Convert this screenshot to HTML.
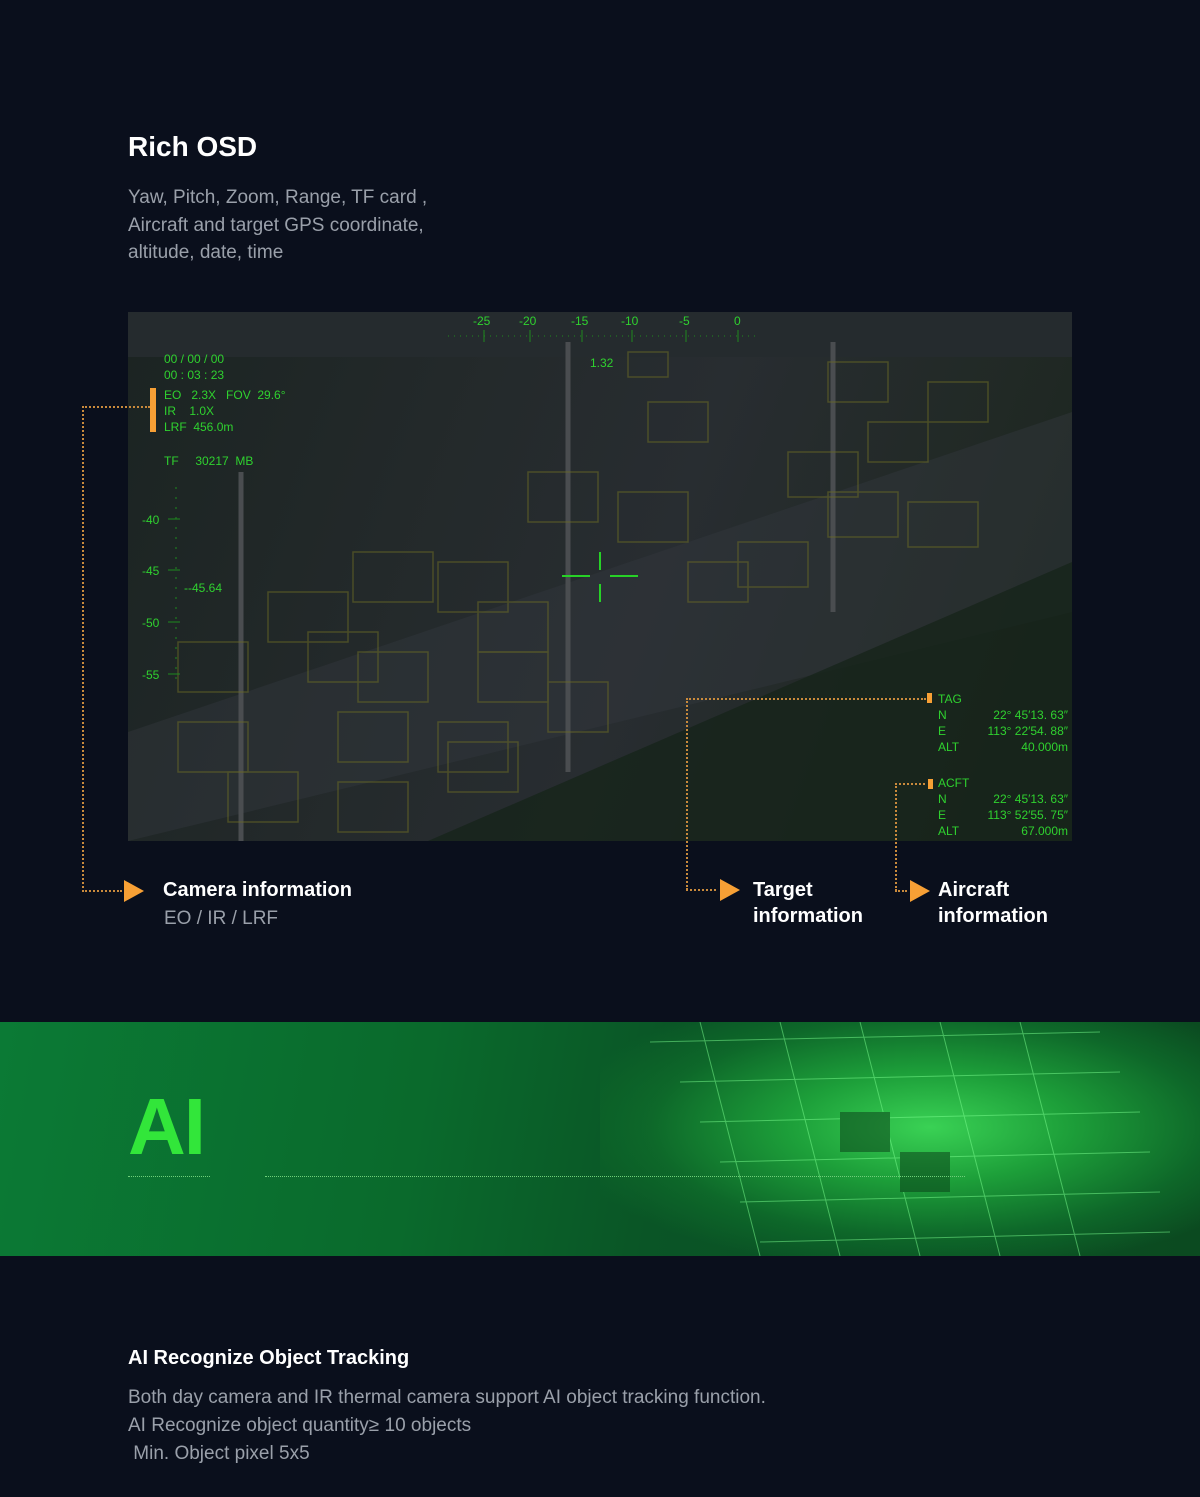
<!DOCTYPE html>
<html><head><meta charset="utf-8"><style>
*{margin:0;padding:0;box-sizing:border-box}
body{width:1200px;height:1497px;background:#0a0f1c;position:relative;overflow:hidden;font-family:"Liberation Sans",sans-serif;color:#fff}
.a{position:absolute}
.g{color:#2fd12f;font-size:12px;line-height:16px;position:absolute;font-family:"Liberation Sans",sans-serif}
.dot{position:absolute;border-color:#c98a3c;border-style:dotted;border-width:0}
.tri{position:absolute;width:0;height:0;border-top:11px solid transparent;border-bottom:11px solid transparent;border-left:20px solid #f7a035}
.h{font-weight:bold;font-size:20px;line-height:26px}
</style></head><body>
<div class="a h" style="left:128px;top:130px;font-size:28px;line-height:34px">Rich OSD</div>
<div class="a" style="left:128px;top:184px;font-size:19px;line-height:27.5px;color:#9aa0aa">Yaw, Pitch, Zoom, Range, TF card ,<br>Aircraft and target GPS coordinate,<br>altitude, date, time</div>

<div class="a" style="left:128px;top:312px;width:944px;height:529px;background:linear-gradient(110deg,#1b2422 0%,#23292a 30%,#282d31 55%,#212925 80%,#19251d 100%);overflow:hidden">
<svg width="944" height="529" style="position:absolute;left:0;top:0">
<polygon points="0,420 944,100 944,300 0,529" fill="#33383d" opacity=".45"/>
<polygon points="300,529 944,250 944,529" fill="#17241a" opacity=".8"/>
<rect x="0" y="0" width="944" height="45" fill="#252b2e"/>
<line x1="440" y1="30" x2="440" y2="460" stroke="#4a4d50" stroke-width="5"/>
<line x1="705" y1="30" x2="705" y2="300" stroke="#4a4d50" stroke-width="5"/>
<line x1="113" y1="160" x2="113" y2="529" stroke="#4a4d50" stroke-width="5"/>
<g fill="none" stroke="#6b6b25" stroke-width="1.5" opacity=".55">
<rect x="500" y="40" width="40" height="25"/><rect x="520" y="90" width="60" height="40"/><rect x="400" y="160" width="70" height="50"/><rect x="490" y="180" width="70" height="50"/><rect x="225" y="240" width="80" height="50"/><rect x="310" y="250" width="70" height="50"/><rect x="140" y="280" width="80" height="50"/><rect x="350" y="290" width="70" height="50"/><rect x="180" y="320" width="70" height="50"/><rect x="50" y="330" width="70" height="50"/><rect x="230" y="340" width="70" height="50"/><rect x="350" y="340" width="70" height="50"/><rect x="560" y="250" width="60" height="40"/><rect x="610" y="230" width="70" height="45"/><rect x="700" y="180" width="70" height="45"/><rect x="780" y="190" width="70" height="45"/><rect x="660" y="140" width="70" height="45"/><rect x="740" y="110" width="60" height="40"/><rect x="800" y="70" width="60" height="40"/><rect x="700" y="50" width="60" height="40"/><rect x="50" y="410" width="70" height="50"/><rect x="210" y="400" width="70" height="50"/><rect x="310" y="410" width="70" height="50"/><rect x="100" y="460" width="70" height="50"/><rect x="210" y="470" width="70" height="50"/><rect x="420" y="370" width="60" height="50"/><rect x="320" y="430" width="70" height="50"/></g>
<g stroke="#1e8a1e">
<line x1="320" y1="24" x2="632" y2="24" stroke-dasharray="1 5"/>
<line x1="356" y1="18" x2="356" y2="30"/><line x1="402" y1="18" x2="402" y2="30"/><line x1="454" y1="18" x2="454" y2="30"/><line x1="504" y1="18" x2="504" y2="30"/><line x1="558" y1="18" x2="558" y2="30"/><line x1="610" y1="18" x2="610" y2="30"/>
<line x1="48" y1="175" x2="48" y2="375" stroke-dasharray="2 8"/>
<line x1="40" y1="207" x2="52" y2="207"/><line x1="40" y1="258" x2="52" y2="258"/><line x1="40" y1="310" x2="52" y2="310"/><line x1="40" y1="362" x2="52" y2="362"/>
</g>
<g stroke="#27d127" stroke-width="2"><line x1="434" y1="264" x2="462" y2="264"/><line x1="482" y1="264" x2="510" y2="264"/><line x1="472" y1="240" x2="472" y2="258"/><line x1="472" y1="272" x2="472" y2="290"/></g>
<rect x="22" y="76" width="6" height="44" fill="#f7a035"/>
<rect x="799" y="381" width="5" height="10" fill="#f7a035"/>
<rect x="800" y="467" width="5" height="10" fill="#f7a035"/>
</svg>
<div class="g" style="left:345px;top:1px">-25</div><div class="g" style="left:391px;top:1px">-20</div><div class="g" style="left:443px;top:1px">-15</div><div class="g" style="left:493px;top:1px">-10</div><div class="g" style="left:551px;top:1px">-5</div><div class="g" style="left:606px;top:1px">0</div>
<div class="g" style="left:462px;top:43px">1.32</div>
<div class="g" style="left:36px;top:39px">00 / 00 / 00<br>00 : 03 : 23</div>
<div class="g" style="left:36px;top:75px">EO &nbsp;&nbsp;2.3X &nbsp;&nbsp;FOV &nbsp;29.6°<br>IR &nbsp;&nbsp;&nbsp;1.0X<br>LRF &nbsp;456.0m</div>
<div class="g" style="left:36px;top:141px">TF &nbsp;&nbsp;&nbsp;&nbsp;30217 &nbsp;MB</div>
<div class="g" style="left:14px;top:200px">-40</div><div class="g" style="left:14px;top:251px">-45</div><div class="g" style="left:14px;top:303px">-50</div><div class="g" style="left:14px;top:355px">-55</div>
<div class="g" style="left:56px;top:268px">--45.64</div>
<div class="g" style="left:810px;top:379px;width:130px">TAG<br>N<span style="float:right">22° 45′13. 63″</span><br>E<span style="float:right">113° 22′54. 88″</span><br>ALT<span style="float:right">40.000m</span></div>
<div class="g" style="left:810px;top:463px;width:130px">ACFT<br>N<span style="float:right">22° 45′13. 63″</span><br>E<span style="float:right">113° 52′55. 75″</span><br>ALT<span style="float:right">67.000m</span></div>
</div>

<div class="dot" style="left:82px;top:406px;width:68px;border-top-width:2px"></div>
<div class="dot" style="left:82px;top:406px;height:486px;border-left-width:2px"></div>
<div class="dot" style="left:82px;top:890px;width:40px;border-top-width:2px"></div>
<div class="tri" style="left:124px;top:880px"></div>
<div class="a h" style="left:163px;top:877px">Camera information</div>
<div class="a" style="left:164px;top:908px;font-size:19px;color:#9aa0aa">EO / IR / LRF</div>

<div class="dot" style="left:686px;top:698px;width:240px;border-top-width:2px"></div>
<div class="dot" style="left:686px;top:698px;height:192px;border-left-width:2px"></div>
<div class="dot" style="left:686px;top:889px;width:30px;border-top-width:2px"></div>
<div class="tri" style="left:720px;top:879px"></div>
<div class="a h" style="left:753px;top:877px">Target<br>information</div>

<div class="dot" style="left:895px;top:783px;width:30px;border-top-width:2px"></div>
<div class="dot" style="left:895px;top:783px;height:108px;border-left-width:2px"></div>
<div class="dot" style="left:895px;top:890px;width:12px;border-top-width:2px"></div>
<div class="tri" style="left:910px;top:880px"></div>
<div class="a h" style="left:938px;top:877px">Aircraft<br>information</div>

<div class="a" style="left:0;top:1022px;width:1200px;height:234px;background:linear-gradient(100deg,#0b7a35 0%,#0a6a2c 35%,#0a5526 55%,#0b4a20 100%);overflow:hidden">
<div class="a" style="left:600px;top:0;width:600px;height:234px;background:radial-gradient(ellipse at 55% 45%,#3fe05a 0%,#1fa83c 30%,#0e6a2a 60%,transparent 80%);opacity:.9"></div>
<svg width="1200" height="234" style="position:absolute;left:0;top:0" opacity=".5">
<g stroke="#7cff90" stroke-width="1">
<line x1="650" y1="20" x2="1100" y2="10"/><line x1="680" y1="60" x2="1120" y2="50"/><line x1="700" y1="100" x2="1140" y2="90"/><line x1="720" y1="140" x2="1150" y2="130"/><line x1="740" y1="180" x2="1160" y2="170"/><line x1="760" y1="220" x2="1170" y2="210"/>
<line x1="700" y1="0" x2="760" y2="234"/><line x1="780" y1="0" x2="840" y2="234"/><line x1="860" y1="0" x2="920" y2="234"/><line x1="940" y1="0" x2="1000" y2="234"/><line x1="1020" y1="0" x2="1080" y2="234"/>
</g>
<rect x="840" y="90" width="50" height="40" fill="#0a3a18"/><rect x="900" y="130" width="50" height="40" fill="#0a3a18"/>
</svg>
<div class="a" style="left:128px;top:60px;font-size:80px;font-weight:bold;color:#32e63a;line-height:90px;letter-spacing:-2px">AI</div>
<div class="a" style="left:128px;top:154px;width:82px;border-top:1px dotted #6fd07a"></div>
<div class="a" style="left:265px;top:154px;width:700px;border-top:1px dotted #6fd07a"></div>
</div>

<div class="a" style="left:128px;top:1347px;font-size:20px;font-weight:bold">AI Recognize Object Tracking</div>
<div class="a" style="left:128px;top:1384px;font-size:19px;line-height:28px;color:#9aa0aa">Both day camera and IR thermal camera support AI object tracking function.<br>AI Recognize object quantity≥ 10 objects<br>&nbsp;Min. Object pixel 5x5</div>
</body></html>
